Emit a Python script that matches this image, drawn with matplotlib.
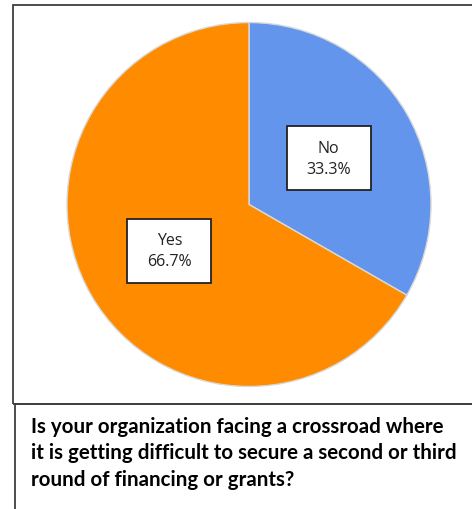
import matplotlib
matplotlib.use("Agg")
import matplotlib.pyplot as plt
from matplotlib.patches import Rectangle

categories = ["No", "Yes"]
values = [33.3, 66.7]
colors = ["#6495ED", "#FF8C00"]
question = ("Is your organization facing a crossroad where\n"
            "it is getting difficult to secure a second or third\n"
            "round of financing or grants?")

W, H = 472, 510
fig = plt.figure(figsize=(W / 100, H / 100), dpi=100)
fig.patch.set_facecolor("white")

def fx(x):
    return x / W

def fy(y):
    return 1 - y / H

# borders
fig.patches.append(Rectangle((fx(13), fy(405)), fx(480) - fx(13), fy(6) - fy(405),
                             transform=fig.transFigure, fill=False,
                             edgecolor="#3f3f3f", linewidth=1.3))
fig.patches.append(Rectangle((fx(15), fy(530)), fx(480) - fx(15), fy(405) - fy(530),
                             transform=fig.transFigure, fill=False,
                             edgecolor="#3f3f3f", linewidth=1.3))

cx, cy, r = 249, 205.5, 182
ax = fig.add_axes([fx(cx - r), fy(cy + r), (2 * r) / W, (2 * r) / H])
labels = [f"{c}\n{v}%" for c, v in zip(categories, values)]
wedges, texts = ax.pie(values, colors=colors, startangle=90, counterclock=False,
                       labels=labels, labeldistance=0.505,
                       wedgeprops=dict(edgecolor="#d9d9d9", linewidth=1.0),
                       textprops=dict(fontsize=11.5, family="Open Sans",
                                      color="#222222", linespacing=1.45))
bw, bh = 84 / r, 64 / r
for t in texts:
    t.set_horizontalalignment("center")
    t.set_verticalalignment("center")
    t.set_zorder(5)
    x0, y0 = t.get_position()
    ax.add_patch(Rectangle((x0 - bw / 2, y0 - bh / 2), bw, bh, facecolor="white",
                           edgecolor="#222222", linewidth=1.3, zorder=4))
ax.set_xlim(-1, 1)
ax.set_ylim(-1, 1)
ax.set_aspect("equal")
ax.axis("off")

fig.text(fx(31), fy(417), question, ha="left", va="top", fontsize=14.8,
         family="Lato", fontweight="bold", color="black", linespacing=1.4)

fig.savefig("out.png", dpi=100)
